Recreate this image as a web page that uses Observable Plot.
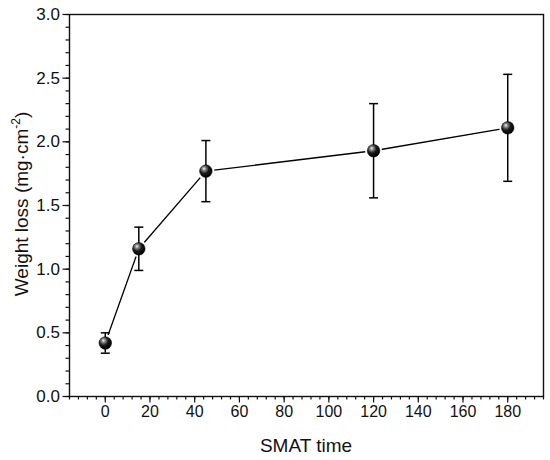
<!DOCTYPE html>
<html><head><meta charset="utf-8">
<script src="https://cdn.jsdelivr.net/npm/d3@7"></script>
<script src="https://cdn.jsdelivr.net/npm/@observablehq/plot@0.6"></script>
<style>
body{margin:0;background:#fff}
#chart svg{font-family:"Liberation Sans",Arial,sans-serif;overflow:visible}
</style>
</head><body><div id="chart"></div>
<script>
const smatTime = [0, 15, 45, 120, 180];
const weightLoss = [0.42, 1.16, 1.77, 1.93, 2.11];
const errorBar = [0.08, 0.17, 0.24, 0.37, 0.42];
const xTicks = [0, 20, 40, 60, 80, 100, 120, 140, 160, 180];
const xMinorTicks = d3.range(-16, 197, 4);
const yTicks = [0, 0.5, 1.0, 1.5, 2.0, 2.5, 3.0];
const yMinorTicks = d3.range(0, 31, 1).map(d => d / 10);
const xLabel = "SMAT time";

const data = smatTime.map((t, i) => ({
  t, w: weightLoss[i], lo: weightLoss[i] - errorBar[i], hi: weightLoss[i] + errorBar[i]
}));

const capSymbol = {
  draw(context) { context.moveTo(-4.5, 0); context.lineTo(4.5, 0); }
};

const W = 550, H = 460;
const chart = Plot.plot({
  width: W, height: H,
  marginLeft: 69, marginRight: 7, marginTop: 14, marginBottom: 64,
  style: {fontSize: "16px", fontFamily: "Liberation Sans, Arial, sans-serif", color: "#111"},
  x: {domain: [-16, 196], label: null},
  y: {domain: [0, 3], label: null},
  marks: [
    Plot.axisX({ticks: xMinorTicks, tickSize: 3.5, tickFormat: () => "", label: null, strokeWidth: 1.2}),
    Plot.axisX({ticks: xTicks, tickSize: 6.5, tickPadding: 3, label: null, strokeWidth: 1.2, fontSize: 16}),
    Plot.axisY({ticks: yMinorTicks, tickSize: 3.5, tickFormat: () => "", label: null, strokeWidth: 1.2}),
    Plot.axisY({ticks: yTicks, tickSize: 6.5, tickPadding: 3, tickFormat: d3.format(".1f"), label: null, strokeWidth: 1.2, fontSize: 17}),
    Plot.frame({stroke: "#111", strokeWidth: 1.4}),
    Plot.line(data, {x: "t", y: "w", stroke: "#000", strokeWidth: 1.3}),
    Plot.dot(data, {x: "t", y: "w", r: 8.5, fill: "#fff", stroke: "none"}),
    Plot.ruleX(data, {x: "t", y1: "lo", y2: "hi", stroke: "#000", strokeWidth: 1.5}),
    Plot.dot(data, {x: "t", y: "lo", symbol: capSymbol, stroke: "#000", strokeWidth: 1.5, fill: "none"}),
    Plot.dot(data, {x: "t", y: "hi", symbol: capSymbol, stroke: "#000", strokeWidth: 1.5, fill: "none"}),
    Plot.dot(data, {x: "t", y: "w", r: 6.3, fill: "url(#ballGrad)", stroke: "#000", strokeWidth: 0.5})
  ]
});

const svg = d3.select(chart);
svg.selectAll("g[aria-label='x-axis tick label']").attr("font-size", 16).style("font-size", "16px");
svg.selectAll("g[aria-label='y-axis tick label']").attr("font-size", 17).style("font-size", "17px");

const defs = svg.insert("defs", ":first-child");
const grad = defs.append("radialGradient").attr("id", "ballGrad")
  .attr("cx", "0.38").attr("cy", "0.35").attr("r", "0.65").attr("fx", "0.35").attr("fy", "0.3");
grad.append("stop").attr("offset", "0").attr("stop-color", "#f4f4f4");
grad.append("stop").attr("offset", "0.22").attr("stop-color", "#8a8a8a");
grad.append("stop").attr("offset", "0.55").attr("stop-color", "#1a1a1a");
grad.append("stop").attr("offset", "1").attr("stop-color", "#000");

svg.append("text")
  .attr("x", 306).attr("y", 452)
  .attr("text-anchor", "middle")
  .attr("font-size", 19).attr("fill", "#111")
  .text(xLabel);

const yl = svg.append("text")
  .attr("transform", "translate(28,204) rotate(-90)")
  .attr("text-anchor", "middle")
  .attr("font-size", 19).attr("fill", "#111");
yl.append("tspan").text("Weight loss (mg·cm");
yl.append("tspan").attr("font-size", 12).attr("dy", -8).text("-2");
yl.append("tspan").attr("dy", 8).text(")");

document.getElementById("chart").appendChild(chart);
</script>
</body></html>
